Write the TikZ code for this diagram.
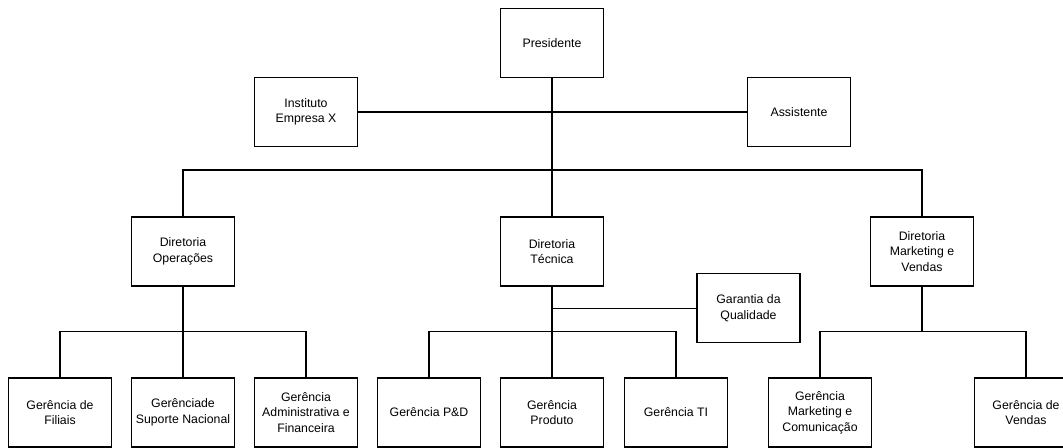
\documentclass[tikz,border=0pt]{standalone}
\usepackage{fontspec}
\setmainfont{Liberation Sans}
\usepackage{tikz}
\usetikzlibrary{positioning}
\tikzstyle{orgBox}=[draw,rectangle,line width=0.7pt,minimum width=2.06cm,minimum height=1.38cm,inner sep=0pt,align=center,font=\fontsize{7}{8.8}\selectfont]
\tikzstyle{orgLine}=[line width=0.7pt]

\begin{document}
\begin{tikzpicture}
  \useasboundingbox (0,0) rectangle (21.26,-8.94);
  \clip (0,0) rectangle (21.26,-8.94);

  % top level
  \node[orgBox] (pres) at (11.04, -0.856) {Presidente};
  \node[orgBox] (inst) at (6.12, -2.24) {Instituto\\Empresa X};
  \node[orgBox] (assist) at (15.98, -2.24) {Assistente};

  % directorates
  \node[orgBox] (dirOp) at (3.66, -5.03) {Diretoria\\Operações};
  \node[orgBox] (dirTec) at (11.04, -5.03) {Diretoria\\Técnica};
  \node[orgBox] (dirMkt) at (18.44, -5.03) {Diretoria\\Marketing e\\Vendas};
  \node[orgBox] (garantia) at (14.97, -6.166) {Garantia da\\Qualidade};

  % managers
  \node[orgBox] (filiais) at (1.2, -8.25) {Gerência de\\Filiais};
  \node[orgBox] (suporte) at (3.66, -8.25) {Gerênciade\\Suporte Nacional};
  \node[orgBox] (admin) at (6.12, -8.25) {Gerência\\Administrativa e\\Financeira};
  \node[orgBox] (pd) at (8.58, -8.25) {Gerência P\&D};
  \node[orgBox] (produto) at (11.04, -8.25) {Gerência\\Produto};
  \node[orgBox] (ti) at (13.52, -8.25) {Gerência TI};
  \node[orgBox] (mktcom) at (16.4, -8.25) {Gerência\\Marketing e\\Comunicação};
  \node[orgBox] (vendas) at (20.52, -8.25) {Gerência de\\Vendas};

  \coordinate (topBus) at (11.04, -3.4);
  \coordinate (opBus) at (3.66, -6.634);
  \coordinate (tecBus) at (11.04, -6.634);
  \coordinate (mktBus) at (18.44, -6.634);

  \draw[orgLine] (pres) -- (dirTec);
  \draw[orgLine] (inst) -- (assist);
  \draw[orgLine] (topBus) -| (dirOp.north);
  \draw[orgLine] (topBus) -| (dirMkt.north);

  \draw[orgLine] (dirOp) -- (suporte);
  \draw[orgLine] (opBus) -| (filiais.north);
  \draw[orgLine] (opBus) -| (admin.north);

  \draw[orgLine] (dirTec) -- (produto);
  \draw[orgLine] (garantia.west) -- (garantia.west -| dirTec.south);
  \draw[orgLine] (tecBus) -| (pd.north);
  \draw[orgLine] (tecBus) -| (ti.north);

  \draw[orgLine] (dirMkt) -- (mktBus);
  \draw[orgLine] (mktBus) -| (mktcom.north);
  \draw[orgLine] (mktBus) -| (vendas.north);
\end{tikzpicture}
\end{document}
